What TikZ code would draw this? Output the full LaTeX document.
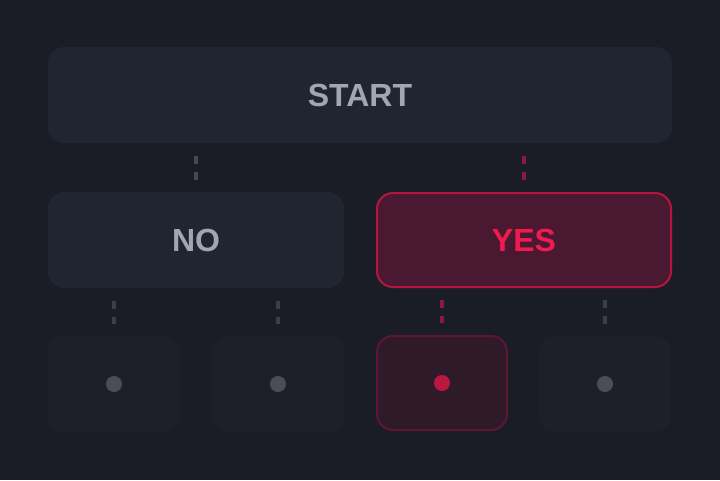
\documentclass[tikz,border=0pt]{standalone}
\usepackage{fontspec}
\setmainfont{Liberation Sans}
\usetikzlibrary{positioning}

\definecolor{bgcol}{HTML}{1B1D26}
\definecolor{boxcol}{HTML}{212530}
\definecolor{leafcol}{HTML}{1D1F29}
\definecolor{txtcol}{HTML}{A3A6B0}
\definecolor{hotfill}{HTML}{4A1830}
\definecolor{hotline}{HTML}{B3173F}
\definecolor{hottxt}{HTML}{F01A4E}
\definecolor{hotleaf}{HTML}{2E1A29}
\definecolor{hotleafline}{HTML}{5E1732}
\definecolor{dotcol}{HTML}{4B4E59}
\definecolor{dotdash}{HTML}{454956}
\definecolor{dimdash}{HTML}{3C3F4B}
\definecolor{hotdash}{HTML}{8C1A40}

\tikzset{
    box/.style={rectangle, rounded corners=16pt, inner sep=0pt, outer sep=0pt,
        fill=boxcol, text=txtcol, font=\fontsize{32}{32}\selectfont\bfseries},
    hotbox/.style={box, fill=hotfill, draw=hotline, line width=2pt, text=hottxt},
    leaf/.style={rectangle, rounded corners=16pt, inner sep=0pt, outer sep=0pt,
        fill=leafcol, minimum width=132pt, minimum height=96pt},
    hotleafbox/.style={leaf, fill=hotleaf, draw=hotleafline, line width=2pt},
    dot/.style={circle, fill=dotcol, minimum size=16pt, inner sep=0pt},
    hotdot/.style={dot, fill=hotline!90!hottxt},
    link/.style={line width=4pt, dotdash, dash pattern=on 8pt off 8pt,
        shorten <=13pt, shorten >=12pt},
    dimlink/.style={link, dimdash},
    hotlink/.style={link, hotdash}
}

\begin{document}
\begin{tikzpicture}[x=1pt, y=-1pt]
    \fill[bgcol] (0,0) rectangle (720,480);
    \useasboundingbox (0,0) rectangle (720,480);

    \node[box, minimum width=624pt, minimum height=96pt] (start) at (360,95) {START};
    \node[box, minimum width=296pt, minimum height=96pt] (no)
        [below=49pt of start.south west, anchor=north west] {NO};
    \node[hotbox, minimum width=294pt, minimum height=94pt] (yes)
        [right=33pt of no] {YES};

    \node[leaf] (l1) [below=48pt of no.south west, anchor=north west] {};
    \node[leaf] (l2) [below=48pt of no.south east, anchor=north east] {};
    \node[hotleafbox, minimum width=130pt, minimum height=94pt] (l3)
        [below=49pt of yes.south west, anchor=north west] {};
    \node[leaf] (l4) [below=49pt of yes.south east, anchor=north east] {};

    \node[dot] (d1) at (l1) {};
    \node[dot] (d2) at (l2) {};
    \node[hotdot] (d3) at (l3) {};
    \node[dot] (d4) at (l4) {};

    % dashed links
    \draw[link] (start.south -| no.north) -- (no.north);
    \draw[hotlink] (start.south -| yes.north) -- (yes.north);
    \draw[dimlink] (no.south -| l1.north) -- (l1.north);
    \draw[dimlink] (no.south -| l2.north) -- (l2.north);
    \draw[hotlink] (yes.south -| l3.north) -- ([yshift=1pt]l3.north);
    \draw[dimlink] (yes.south -| l4.north) -- (l4.north);
\end{tikzpicture}
\end{document}
